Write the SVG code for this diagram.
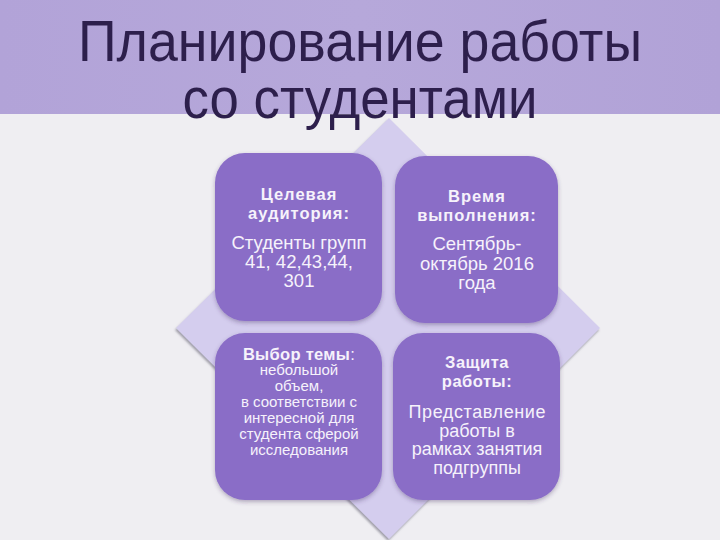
<svg xmlns="http://www.w3.org/2000/svg" width="720" height="540" viewBox="0 0 720 540">
  <defs>
    <filter id="shadow" x="-10%" y="-10%" width="120%" height="125%">
      <feDropShadow dx="0" dy="2" stdDeviation="2" flood-color="#3a2a5a" flood-opacity="0.35"/>
    </filter>
    <filter id="dshadow" x="-5%" y="-5%" width="110%" height="110%">
      <feDropShadow dx="-1" dy="2" stdDeviation="1" flood-color="#6a6878" flood-opacity="0.6"/>
    </filter>
    <linearGradient id="band" x1="0" y1="0" x2="1" y2="0">
      <stop offset="0" stop-color="#b2a3d8"/>
      <stop offset="0.5" stop-color="#b6a8da"/>
      <stop offset="1" stop-color="#b1a2d7"/>
    </linearGradient>
  </defs>
  <style>
    .title { font-family: "Liberation Sans", Arial, sans-serif; font-size: 58px; fill: #2d1f4c; text-anchor: middle; }
    .box { fill: #8a6dc7; filter: url(#shadow); }
    .hd { font-family: "Liberation Sans", Arial, sans-serif; font-size: 16.5px; font-weight: bold; fill: #f6f2fb; text-anchor: middle; letter-spacing: 1px; }
    .tx { font-family: "Liberation Sans", Arial, sans-serif; font-size: 18.5px; fill: #f6f2fb; text-anchor: middle; }
    .tb { font-family: "Liberation Sans", Arial, sans-serif; font-size: 18px; fill: #f6f2fb; text-anchor: middle; }
    .sm { font-family: "Liberation Sans", Arial, sans-serif; font-size: 15px; fill: #f6f2fb; text-anchor: middle; }
  </style>

  <rect x="0" y="0" width="720" height="540" fill="#efeef2"/>
  <rect x="0" y="0" width="720" height="114" fill="url(#band)"/>

  <g id="diamond">
    <polygon points="389,118 600,328 389,539 176,328" fill="#d4cdee" filter="url(#dshadow)"/>
  </g>

  <g id="title">
    <text class="title" x="360" y="61" textLength="564" lengthAdjust="spacingAndGlyphs">Планирование работы</text>
    <text class="title" x="360" y="118" textLength="355" lengthAdjust="spacingAndGlyphs">со студентами</text>
  </g>

  <g id="node-audience">
    <rect class="box" x="215" y="153" width="167" height="168" rx="30"/>
    <text class="hd" x="299" y="200">Целевая</text>
    <text class="hd" x="299" y="219">аудитория:</text>
    <text class="tx" x="299" y="249">Студенты групп</text>
    <text class="tx" x="299" y="268">41, 42,43,44,</text>
    <text class="tx" x="299" y="287">301</text>
  </g>

  <g id="node-time">
    <rect class="box" x="395" y="156" width="163" height="167" rx="30"/>
    <text class="hd" x="477" y="202">Время</text>
    <text class="hd" x="477" y="221">выполнения:</text>
    <text class="tx" x="477" y="250">Сентябрь-</text>
    <text class="tx" x="477" y="270">октябрь 2016</text>
    <text class="tx" x="477" y="289">года</text>
  </g>

  <g id="node-topic">
    <rect class="box" x="215" y="333" width="167" height="167" rx="30"/>
    <text class="hd" x="299" y="360" style="letter-spacing:0.3px">Выбор темы<tspan font-weight="normal">:</tspan></text>
    <text class="sm" x="299" y="375">небольшой</text>
    <text class="sm" x="299" y="391">объем,</text>
    <text class="sm" x="299" y="407">в соответствии с</text>
    <text class="sm" x="299" y="423">интересной для</text>
    <text class="sm" x="299" y="439">студента сферой</text>
    <text class="sm" x="299" y="455">исследования</text>
  </g>

  <g id="node-defense">
    <rect class="box" x="393" y="333" width="167" height="167" rx="30"/>
    <text class="hd" x="477" y="368" style="letter-spacing:0.5px">Защита</text>
    <text class="hd" x="477" y="387" style="letter-spacing:0.5px">работы:</text>
    <text class="tb" x="477" y="418" textLength="137" lengthAdjust="spacing">Представление</text>
    <text class="tb" x="477" y="436.5">работы в</text>
    <text class="tb" x="477" y="455">рамках занятия</text>
    <text class="tb" x="477" y="473.5">подгруппы</text>
  </g>

  <g id="connectors"></g>
</svg>
